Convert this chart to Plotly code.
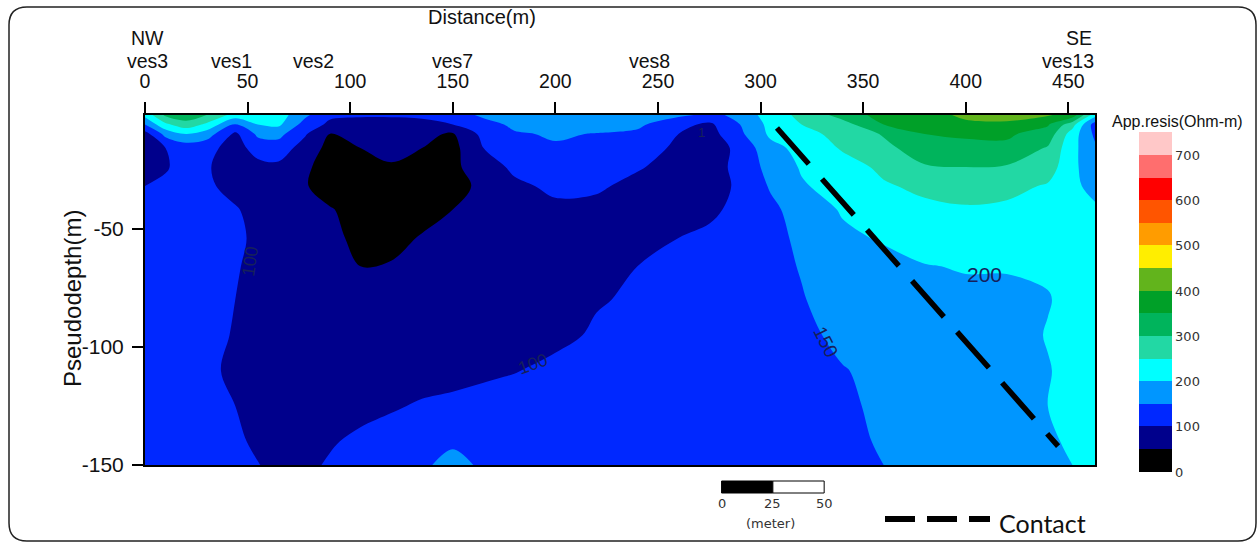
import plotly.graph_objects as go

# ---------------- data ----------------
x_m = [0, 10, 20, 30, 44, 55, 65, 78, 90, 105, 120, 135, 150, 165, 180, 200,
       220, 240, 260, 275, 290, 305, 320, 340, 360, 380, 400, 420, 440, 452, 463]
depth_m = [-2, -6, -10, -16, -24, -32, -42, -54, -66, -80, -95, -110, -125, -140, -150]

# apparent resistivity (Ohm-m), one row per pseudodepth, one value per x_m
res_d002 = [215, 310, 330, 300, 230, 240, 225, 160, 110, 105, 105, 110, 125, 160, 175, 180,
            180, 175, 160, 140, 160, 230, 260, 320, 370, 390, 405, 410, 405, 380, 220]
res_d006 = [150, 240, 280, 240, 145, 200, 210, 130, 90, 85, 85, 85, 100, 130, 160, 170,
            170, 160, 115, 90, 150, 215, 250, 280, 350, 375, 395, 395, 355, 270, 125]
res_d010 = [80, 165, 200, 175, 90, 160, 165, 105, 48, 65, 75, 60, 45, 115, 145, 155,
            148, 140, 100, 80, 140, 210, 240, 260, 305, 350, 355, 357, 330, 225, 140]
res_d016 = [75, 100, 120, 115, 80, 120, 125, 80, 35, 50, 65, 50, 35, 100, 130, 145,
            140, 125, 90, 70, 115, 185, 215, 255, 285, 330, 340, 340, 295, 215, 158]
res_d024 = [75, 95, 120, 105, 75, 85, 90, 60, 25, 35, 45, 30, 40, 75, 110, 120,
            120, 105, 80, 70, 120, 165, 205, 230, 260, 295, 300, 295, 275, 212, 168]
res_d032 = [100, 110, 110, 110, 80, 75, 70, 55, 20, 15, 20, 20, 35, 60, 90, 110,
            108, 85, 70, 75, 110, 155, 195, 220, 245, 260, 270, 265, 245, 210, 186]
res_d042 = [120, 120, 120, 115, 105, 80, 60, 55, 55, 25, 15, 25, 50, 70, 80, 90,
            85, 75, 75, 85, 120, 140, 170, 205, 225, 240, 245, 240, 230, 220, 207]
res_d054 = [125, 125, 125, 125, 110, 90, 75, 65, 60, 40, 30, 55, 70, 75, 80, 80,
            75, 80, 100, 115, 125, 135, 160, 190, 205, 220, 225, 225, 220, 215, 210]
res_d066 = [130, 130, 130, 125, 105, 85, 75, 70, 65, 50, 55, 65, 70, 70, 70, 70,
            75, 100, 110, 120, 130, 140, 152, 175, 185, 198, 203, 203, 205, 215, 215]
res_d080 = [130, 130, 130, 125, 100, 85, 80, 75, 70, 65, 65, 65, 70, 75, 75, 80,
            97, 105, 120, 125, 130, 140, 148, 165, 175, 185, 190, 190, 198, 210, 215]
res_d095 = [130, 130, 125, 120, 95, 85, 80, 75, 70, 70, 70, 70, 75, 80, 85, 90,
            105, 115, 125, 130, 135, 140, 140, 160, 170, 180, 185, 185, 202, 210, 215]
res_d110 = [130, 125, 120, 110, 90, 80, 75, 70, 70, 70, 75, 80, 85, 92, 98, 110,
            120, 125, 130, 130, 135, 135, 140, 148, 160, 170, 178, 185, 198, 210, 215]
res_d125 = [125, 125, 115, 115, 100, 80, 75, 75, 80, 85, 95, 105, 110, 115, 120, 125,
            130, 130, 130, 135, 135, 135, 135, 143, 158, 165, 175, 185, 200, 210, 212]
res_d140 = [125, 120, 115, 115, 110, 90, 80, 85, 95, 110, 120, 135, 145, 135, 130, 130,
            135, 135, 135, 135, 135, 135, 135, 138, 155, 165, 175, 185, 195, 205, 210]
res_d150 = [125, 120, 115, 115, 115, 102, 85, 90, 105, 120, 130, 145, 160, 145, 135, 135,
            135, 135, 135, 135, 135, 135, 135, 140, 150, 160, 170, 180, 190, 200, 208]

resistivity = [res_d002, res_d006, res_d010, res_d016, res_d024, res_d032, res_d042,
               res_d054, res_d066, res_d080, res_d095, res_d110, res_d125, res_d140, res_d150]

# colour bands (0-50, 50-100, ... 700-750), padded with white outside the range
band_colors = ["#ffffff",
               "#000000", "#00008c", "#0028ff", "#0096ff", "#00ffff", "#22d8a4",
               "#00b45c", "#00a028", "#62b41c", "#ffee00", "#ff9c00", "#ff5500",
               "#ff0000", "#ff6e6e", "#ffc8c8",
               "#ffffff"]
cbar_ticks = [0, 100, 200, 300, 400, 500, 600, 700]

x_ticks = [0, 50, 100, 150, 200, 250, 300, 350, 400, 450]
y_ticks = [-50, -100, -150]
y_tick_text = ["-50", "-100", "-150"]

station_names = ["ves3", "ves1", "ves2", "ves7", "ves8", "ves13"]
station_x = [1, 42, 82, 150, 246, 450]
direction_names = ["NW", "SE"]
direction_x = [1, 455]

contact_x = [308, 445]
contact_y = [-7.5, -142]

contour_labels = ["100", "100", "150", "200", "1"]
contour_label_x = [51, 189, 332, 409, 271]
contour_label_y = [-64, -107.5, -98, -69.5, -9.3]
contour_label_angle = [-82, -20, 63, 0, 0]
contour_label_size = [18, 18, 19, 21, 13]

scale_bar_start = 281
scale_bar_ticks = [0, 25, 50]

# ---------------- layout helpers (pixel -> paper) ----------------
PL, PR, PT, PB = 145, 1095, 115, 465


def px(xp):
    return (xp - PL) / (PR - PL)


def py(yp):
    return (PB - yp) / (PB - PT)


FONT = "Liberation Sans, Arial, sans-serif"
SMALLFONT = "DejaVu Sans, Verdana, sans-serif"
TOPSIZE = 19.5

n = len(band_colors) - 1
colorscale = [[k / n, c] for k, c in enumerate(band_colors)]

# colorbar geometry: value 0 at y=472px, 750 at y=133px
unit = (472 - 133) / 750.0
cb_len = 800 * unit
cb_bottom = 472 + 25 * unit

fig = go.Figure()
fig.add_trace(go.Contour(
    x=x_m, y=depth_m, z=resistivity,
    colorscale=colorscale,
    autocontour=False,
    contours=dict(start=0, end=750, size=50, coloring="fill", showlines=False),
    line=dict(width=0, smoothing=1.0),
    hoverinfo="skip",
    colorbar=dict(
        thickness=33, lenmode="pixels", len=cb_len,
        x=px(1139), xanchor="left", xpad=0,
        y=py(cb_bottom), yanchor="bottom", ypad=0,
        outlinewidth=0,
        tickmode="array", tickvals=cbar_ticks, ticktext=[str(v) for v in cbar_ticks],
        ticks="", tickfont=dict(family=SMALLFONT, size=13, color="#333333"),
    ),
))

fig.add_trace(go.Scatter(
    x=contact_x, y=contact_y, mode="lines",
    line=dict(color="black", width=5.5, dash="48px,20px"),
    showlegend=False, hoverinfo="skip",
))

annotations = []
annotations.append(dict(text="Distance(m)", xref="paper", yref="paper", x=px(482), y=py(17),
                        showarrow=False, font=dict(family=FONT, size=20, color="#111"),
                        xanchor="center", yanchor="middle", borderpad=0))
for name, xv in zip(station_names, station_x):
    annotations.append(dict(text=name, xref="x", yref="paper", x=xv, y=py(60.5),
                            showarrow=False, font=dict(family=FONT, size=TOPSIZE, color="#111"),
                            xanchor="center", yanchor="middle", borderpad=0))
for name, xv in zip(direction_names, direction_x):
    annotations.append(dict(text=name, xref="x", yref="paper", x=xv, y=py(38.5),
                            showarrow=False, font=dict(family=FONT, size=TOPSIZE, color="#111"),
                            xanchor="center", yanchor="middle", borderpad=0))
annotations.append(dict(text="Pseudodepth(m)", xref="paper", yref="paper", x=px(72), y=py(299),
                        showarrow=False, textangle=-90,
                        font=dict(family=FONT, size=24, color="#111"),
                        xanchor="center", yanchor="middle"))
annotations.append(dict(text="App.resis(Ohm-m)", xref="paper", yref="paper", x=px(1177), y=py(121),
                        showarrow=False, font=dict(family=FONT, size=16, color="#111"),
                        xanchor="center", yanchor="middle"))
for t, xv, yv, ang, sz in zip(contour_labels, contour_label_x, contour_label_y,
                              contour_label_angle, contour_label_size):
    annotations.append(dict(text=t, xref="x", yref="y", x=xv, y=yv, showarrow=False,
                            textangle=ang, font=dict(family=FONT, size=sz, color="#16205a"),
                            xanchor="center", yanchor="middle"))
for v in scale_bar_ticks:
    annotations.append(dict(text=str(v), xref="x", yref="paper", x=scale_bar_start + v, y=py(503),
                            showarrow=False, font=dict(family=SMALLFONT, size=13, color="#333"),
                            xanchor="center", yanchor="middle"))
annotations.append(dict(text="(meter)", xref="x", yref="paper", x=scale_bar_start + 24, y=py(523),
                        showarrow=False, font=dict(family=SMALLFONT, size=13, color="#333"),
                        xanchor="center", yanchor="middle"))
annotations.append(dict(text="Contact", xref="paper", yref="paper", x=px(997), y=py(523),
                        showarrow=False, font=dict(family="Lato, Open Sans, sans-serif", size=25, color="#111"),
                        xanchor="left", yanchor="middle"))

shapes = []
# scale bar
shapes.append(dict(type="rect", xref="x", yref="paper",
                   x0=scale_bar_start, x1=scale_bar_start + 25, y0=py(493), y1=py(481),
                   fillcolor="black", line=dict(color="black", width=1)))
shapes.append(dict(type="rect", xref="x", yref="paper",
                   x0=scale_bar_start + 25, x1=scale_bar_start + 50, y0=py(493), y1=py(481),
                   fillcolor="white", line=dict(color="black", width=1)))
# legend sample for the contact line
shapes.append(dict(type="line", xref="paper", yref="paper",
                   x0=px(885), x1=px(990), y0=py(519), y1=py(519),
                   line=dict(color="black", width=6, dash="30px,12px")))
# rounded outer frame
L, R, T, B, r = 9, 1256, 7, 541, 18
path = (f"M{px(L + r)},{py(T)} L{px(R - r)},{py(T)} Q{px(R)},{py(T)} {px(R)},{py(T + r)} "
        f"L{px(R)},{py(B - r)} Q{px(R)},{py(B)} {px(R - r)},{py(B)} "
        f"L{px(L + r)},{py(B)} Q{px(L)},{py(B)} {px(L)},{py(B - r)} "
        f"L{px(L)},{py(T + r)} Q{px(L)},{py(T)} {px(L + r)},{py(T)} Z")
shapes.append(dict(type="path", xref="paper", yref="paper", path=path,
                   line=dict(color="#222", width=1.5)))

fig.update_layout(
    width=1260, height=544,
    margin=dict(l=PL, r=1260 - PR, t=PT, b=544 - PB, pad=0),
    paper_bgcolor="white", plot_bgcolor="white",
    showlegend=False,
    xaxis=dict(range=[0, 463], side="top", tickmode="array", tickvals=x_ticks,
               ticks="outside", ticklen=11, tickwidth=1.5, tickcolor="black",
               showline=True, linewidth=2, linecolor="black", mirror=True,
               showgrid=False, zeroline=False,
               tickfont=dict(family=FONT, size=TOPSIZE, color="#111"), ticklabelstandoff=6),
    yaxis=dict(range=[-150, -2], tickmode="array", tickvals=y_ticks, ticktext=y_tick_text,
               ticks="outside", ticklen=11, tickwidth=1.5, tickcolor="black",
               showline=True, linewidth=2, linecolor="black", mirror=True,
               showgrid=False, zeroline=False,
               tickfont=dict(family=FONT, size=21, color="#111"), ticklabelstandoff=4),
    annotations=annotations,
    shapes=shapes,
)

fig.write_html("out.html")
